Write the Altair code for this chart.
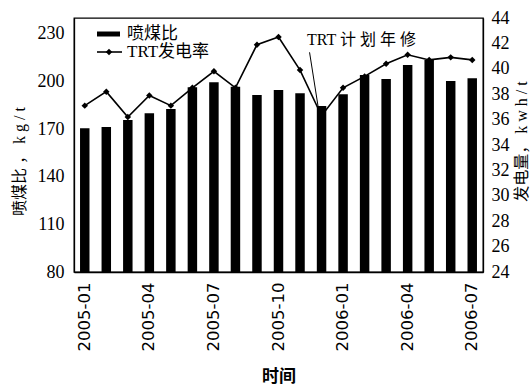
import altair as alt
import pandas as pd

# Monthly data, Jan 2005 - Jul 2006
months = ["2005-01", "2005-02", "2005-03", "2005-04", "2005-05", "2005-06",
          "2005-07", "2005-08", "2005-09", "2005-10", "2005-11", "2005-12",
          "2006-01", "2006-02", "2006-03", "2006-04", "2006-05", "2006-06",
          "2006-07"]
# 喷煤比 (kg/t)
pci_rate = [170.5, 171.3, 175.7, 180.0, 182.7, 196.3, 199.5, 196.7, 191.5,
            194.6, 192.6, 184.6, 191.9, 204.1, 201.6, 210.4, 213.5, 200.3,
            202.0]
# TRT发电率 (kwh/t)
trt_rate = [37.1, 38.2, 36.2, 37.9, 37.1, 38.5, 39.8, 38.5, 41.9, 42.5,
            39.9, 36.3, 38.5, 39.4, 40.4, 41.1, 40.7, 40.9, 40.7]

shown_months = ["2005-01", "2005-04", "2005-07", "2005-10", "2006-01",
                "2006-04", "2006-07"]
left_ticks = [80, 110, 140, 170, 200, 230]
right_ticks = [24, 26, 28, 30, 32, 34, 36, 38, 40, 42, 44]
legend_labels = ["喷煤比", "TRT发电率"]
note_text = "TRT 计 划 年 修"
note_month = "2005-12"
left_title = "喷煤比 ，  k g / t"
right_title = "发电量，  k w h / t"

SERIF = "Liberation Serif, Noto Sans CJK SC"
SANS = "DejaVu Sans, Noto Sans CJK SC"

df = pd.DataFrame({"month": months, "pci": pci_rate, "trt": trt_rate})

x_enc = alt.X(
    "month:O",
    sort=months,
    scale=alt.Scale(paddingInner=0.56, paddingOuter=0.28),
    axis=alt.Axis(
        title="时间", values=shown_months, labelAngle=-90, labelFont=SANS,
        labelFontSize=16.5, labelPadding=10, ticks=False, titleFont=SANS,
        titleFontSize=17, titleFontWeight="bold", titleY=104,
        titleBaseline="middle",
    ),
)

bars = alt.Chart(df).mark_bar(color="black", clip=True).encode(
    x=x_enc,
    y=alt.Y(
        "pci:Q",
        scale=alt.Scale(domain=[80, 240], nice=False, zero=False),
        axis=alt.Axis(
            title=left_title, values=left_ticks, labelPadding=10,
            titleAngle=-90, titleX=-55, titleY=143, titleAlign="center",
            titleBaseline="middle",
        ),
    ),
)

right_scale = alt.Scale(domain=[24, 44], nice=False, zero=False)
right_axis = alt.Axis(
    orient="right", title=right_title, values=right_ticks, labelPadding=8,
    titleAngle=-90, titleX=38, titleY=123, titleAlign="center",
    titleBaseline="middle",
)

line = alt.Chart(df).mark_line(color="black", strokeWidth=1.6).encode(
    x=alt.X("month:O", sort=months),
    y=alt.Y("trt:Q", scale=right_scale, axis=right_axis, title=right_title),
)

points = alt.Chart(df).mark_point(
    shape="diamond", filled=True, color="black", size=42, opacity=1
).encode(
    x=alt.X("month:O", sort=months),
    y=alt.Y("trt:Q", scale=right_scale, axis=right_axis, title=right_title),
)

note_df = pd.DataFrame({"month": [note_month], "label": [note_text],
                        "top": [41.3], "bottom": [36.8], "text_y": [42.3]})

leader = alt.Chart(note_df).mark_rule(
    color="black", strokeWidth=1, xOffset=-12, x2Offset=-3
).encode(
    x=alt.X("month:O", sort=months),
    x2="month:O",
    y=alt.Y("top:Q", scale=right_scale, axis=right_axis, title=right_title),
    y2="bottom:Q",
)

note = alt.Chart(note_df).mark_text(
    font=SERIF, fontSize=16, align="center", baseline="middle", dx=40,
    color="black"
).encode(
    x=alt.X("month:O", sort=months),
    y=alt.Y("text_y:Q", scale=right_scale, axis=right_axis,
            title=right_title),
    text="label:N",
)

# Legend drawn in the upper-left corner of the plot
leg_df = pd.DataFrame({"label": legend_labels})
leg_bar = alt.Chart(leg_df.iloc[[0]]).mark_rule(
    color="black", strokeWidth=5
).encode(x=alt.value(23), x2=alt.value(46), y=alt.value(16))
leg_line = alt.Chart(leg_df.iloc[[1]]).mark_rule(
    color="black", strokeWidth=1.6
).encode(x=alt.value(23), x2=alt.value(48), y=alt.value(34))
leg_pt = alt.Chart(leg_df.iloc[[1]]).mark_point(
    shape="diamond", filled=True, color="black", size=42, opacity=1
).encode(x=alt.value(35), y=alt.value(34))
leg_text1 = alt.Chart(leg_df.iloc[[0]]).mark_text(
    font=SERIF, fontSize=17, align="left", baseline="middle", color="black"
).encode(x=alt.value(53), y=alt.value(16), text="label:N")
leg_text2 = alt.Chart(leg_df.iloc[[1]]).mark_text(
    font=SERIF, fontSize=17, align="left", baseline="middle", color="black"
).encode(x=alt.value(53), y=alt.value(34), text="label:N")

right_layer = alt.layer(line, points, leader, note)

chart = alt.layer(
    bars, right_layer, leg_bar, leg_line, leg_pt, leg_text1, leg_text2
).resolve_scale(
    y="independent"
).properties(
    width=409, height=254,
    autosize=alt.AutoSizeParams(type="none"),
    padding={"left": 74, "top": 18, "right": 48, "bottom": 112},
    background="white",
).configure_view(
    stroke="black", strokeWidth=1.3
).configure_axisY(
    labelFont=SERIF, labelFontSize=18, titleFont=SERIF, titleFontSize=16,
    titleFontWeight="normal", ticks=False, grid=False
).configure_axis(
    domainColor="black", domainWidth=1.3, labelColor="black",
    titleColor="black"
)

chart.save("out.html", embed_options={"renderer": "svg", "actions": False})
